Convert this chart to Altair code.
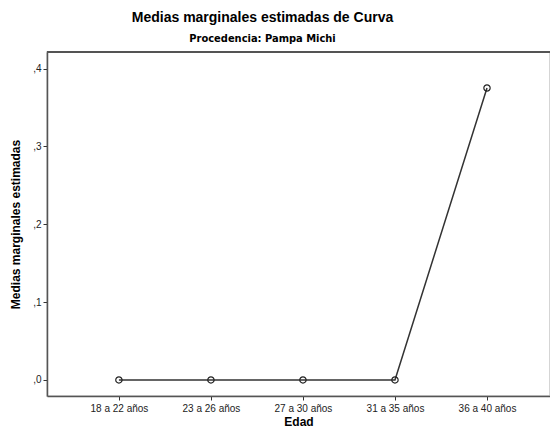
import altair as alt
import pandas as pd

categories = ["18 a 22 años", "23 a 26 años", "27 a 30 años", "31 a 35 años", "36 a 40 años"]
means = [0.0, 0.0, 0.0, 0.0, 0.375]

df = pd.DataFrame({"Edad": categories, "Media": means})

FONT = "Liberation Sans"

x_enc = alt.X("Edad:N", sort=categories, title="Edad",
              scale=alt.Scale(type="point", padding=0.733, align=0.533),
              axis=alt.Axis(labelAngle=0, labelFontSize=10, labelColor="#222222",
                            labelFont=FONT, titleFont=FONT, titleFontSize=12,
                            titleFontWeight="bold", titleColor="#000000",
                            tickSize=4, tickColor="#333333", domainColor="#555555",
                            domainWidth=1.5, labelPadding=3, titlePadding=3, grid=False))
y_enc = alt.Y("Media:Q", title="Medias marginales estimadas",
              scale=alt.Scale(domain=[-0.0206, 0.4212], nice=False, zero=False),
              axis=alt.Axis(values=[0, 0.1, 0.2, 0.3, 0.4],
                            labelExpr="replace(format(datum.value, '.1f'), '0.', ',')",
                            labelFontSize=10, labelColor="#222222", labelFont=FONT,
                            titleFont=FONT, titleFontSize=12, titleFontWeight="bold",
                            titleColor="#000000", tickSize=4, tickColor="#333333",
                            domainColor="#555555", domainWidth=1.5, labelPadding=2,
                            titlePadding=10, grid=False))

line = alt.Chart(df).mark_line(color="#333333", strokeWidth=1.5).encode(x=x_enc, y=y_enc)
pts = alt.Chart(df).mark_point(shape="circle", filled=False, color="#222222",
                               size=40, strokeWidth=1.2, opacity=1).encode(x=x_enc, y=y_enc)
top = alt.Chart(df).mark_rule(color="#555555", strokeWidth=1.5).encode(
    x=alt.value(0), x2=alt.value(503), y=alt.value(0))

chart = alt.layer(top, line, pts).properties(
    width=503, height=344,
    autosize=alt.AutoSizeParams(type="none"),
    padding={"left": 39, "top": 44, "right": 0, "bottom": 32},
    title=alt.TitleParams(
        text="Medias marginales estimadas de Curva",
        subtitle="Procedencia: Pampa Michi",
        anchor="middle", frame="group", dx=-36, offset=7,
        font=FONT, fontSize=14, fontWeight="bold", color="#000000",
        subtitleFont="DejaVu Sans Condensed", subtitleFontSize=11,
        subtitleFontWeight="bold", subtitleColor="#000000", subtitlePadding=8,
    ),
).configure_view(stroke="#c8c8c8", strokeWidth=1.5)

chart.save("out.html", embed_options={"renderer": "svg", "actions": False})
